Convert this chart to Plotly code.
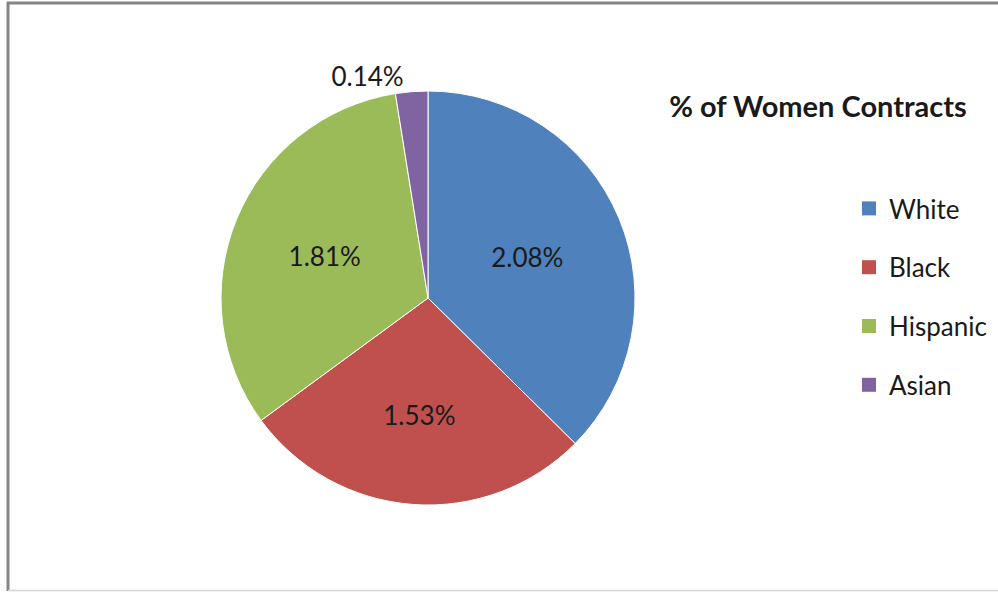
import plotly.graph_objects as go

categories = ["White", "Black", "Hispanic", "Asian"]
values = [2.08, 1.53, 1.81, 0.14]
colors = ["#4F81BD", "#C0504D", "#9BBB59", "#8064A2"]
title_text = "% of Women Contracts"

W, H = 998, 592
cx, cy, r = 428, 298, 207
FONT = "Lato, sans-serif"

fig = go.Figure()
fig.add_trace(go.Pie(
    labels=categories,
    values=values,
    sort=False,
    direction="clockwise",
    rotation=0,
    marker=dict(colors=colors, line=dict(color="white", width=1)),
    texttemplate="%{value:.2f}%",
    textposition=["inside", "inside", "inside", "outside"],
    insidetextorientation="horizontal",
    textfont=dict(family=FONT, size=26, color="#1a1a1a"),
    showlegend=False,
    hoverinfo="label+value+percent",
    domain=dict(x=[(cx - r) / W, (cx + r) / W], y=[1 - (cy + r) / H, 1 - (cy - r) / H]),
))

# legend entries (one group per category for Excel-like spacing)
for name, col in zip(categories, colors):
    fig.add_trace(go.Scatter(
        x=[None], y=[None], mode="markers", name=name,
        marker=dict(symbol="square", size=14, color=col),
        legendgroup=name, showlegend=True, hoverinfo="skip",
    ))

fig.update_layout(
    width=W, height=H,
    margin=dict(l=0, r=0, t=0, b=0),
    paper_bgcolor="white", plot_bgcolor="white",
    xaxis=dict(visible=False), yaxis=dict(visible=False),
    title=dict(text="<b>" + title_text + "</b>", x=818 / W, xanchor="center",
               y=1 - 107 / H, yanchor="middle",
               font=dict(family=FONT, size=29, color="#1a1a1a")),
    legend=dict(x=849 / W, xanchor="left", y=1 - 185 / H, yanchor="top",
                font=dict(family=FONT, size=26, color="#1a1a1a"),
                tracegroupgap=22, itemwidth=30, bgcolor="rgba(0,0,0,0)"),
    shapes=[
        dict(type="line", xref="paper", yref="paper", x0=7 / W, x1=1, y0=1 - 3 / H, y1=1 - 3 / H,
             line=dict(color="#858585", width=3)),
        dict(type="line", xref="paper", yref="paper", x0=8 / W, x1=8 / W, y0=1 - 2 / H, y1=1 - 591 / H,
             line=dict(color="#858585", width=3)),
        dict(type="line", xref="paper", yref="paper", x0=8 / W, x1=1, y0=1 - 590.5 / H, y1=1 - 590.5 / H,
             line=dict(color="#d4d4d4", width=1.5)),
    ],
)

fig.write_html("out.html", config={"displayModeBar": False},
               post_script="document.body.style.margin='0px';")
